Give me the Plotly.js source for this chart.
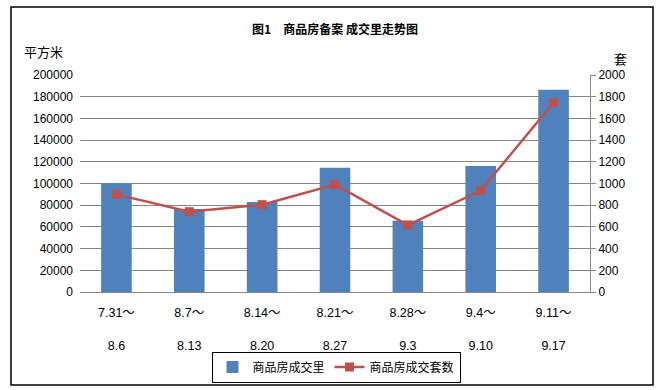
<!DOCTYPE html>
<html><head><meta charset="utf-8">
<script src="https://cdn.plot.ly/plotly-3.0.1.min.js"></script>
<style>html,body{margin:0;padding:0;background:#fff}#c{width:660px;height:390px}</style>
</head><body><div id="c"></div>
<script>
const categories = ["7.31～<br> <br>8.6","8.7～<br> <br>8.13","8.14～<br> <br>8.20","8.21～<br> <br>8.27","8.28～<br> <br>9.3","9.4～<br> <br>9.10","9.11～<br> <br>9.17"];
const areaValues = [100000, 76500, 83000, 114500, 65600, 116200, 186500];
const unitValues = [900, 740, 805, 990, 617, 935, 1745];
const seriesNames = ["商品房成交里", "商品房成交套数"];

const font = "Liberation Sans, Arial, Noto Sans CJK SC, sans-serif";
const traces = [
  {type:"bar", x:categories, y:areaValues, name:seriesNames[0], marker:{color:"#4F81BD"}, yaxis:"y"},
  {type:"scatter", mode:"lines+markers", x:categories, y:unitValues, name:seriesNames[1], yaxis:"y2",
   line:{color:"#C0504D", width:2.5}, marker:{symbol:"square", size:9, color:"#C0504D"}}
];
const layout = {
  width:660, height:390, paper_bgcolor:"#fff", plot_bgcolor:"#fff",
  margin:{l:80, r:70, t:75, b:98, autoexpand:false},
  bargap:0.58, showlegend:true,
  font:{family:font, size:12, color:"#000"},
  title:{text:"<b>图1　商品房备案 成交里走势图</b>", x:0.5, xref:"paper", y:1-30/390, yanchor:"middle",
         font:{family:"Noto Sans CJK SC, sans-serif", size:12, color:"#000"}},
  xaxis:{type:"category", automargin:false, showgrid:false, showline:true, linecolor:"#868686", linewidth:1, ticks:"",
         tickfont:{size:12.5, family:font}, ticklabelstandoff:9, fixedrange:true},
  yaxis:{range:[0,200000], automargin:false, dtick:20000, tickformat:"d", showgrid:true, gridcolor:"#868686", gridwidth:1, zeroline:false,
         showline:false, ticks:"", tickfont:{size:12}, ticklabelstandoff:6},
  yaxis2:{range:[0,2000], automargin:false, dtick:200, tickformat:"d", overlaying:"y", side:"right", showgrid:false, zeroline:false,
          showline:true, linecolor:"#868686", linewidth:1, ticks:"outside", ticklen:5, tickcolor:"#868686",
          tickfont:{size:12}},
  legend:{orientation:"h", x:(336-80)/510, xanchor:"center", y:-(367-292)/217, yanchor:"middle", xref:"paper", yref:"paper",
          bordercolor:"#000", borderwidth:1, bgcolor:"#fff", font:{family:"Noto Sans CJK SC, sans-serif", size:12},
          itemwidth:30, tracegroupgap:0},
  annotations:[
    {text:"平方米", xref:"paper", yref:"paper", x:(22-80)/510, y:1+(75-51)/217, xanchor:"left", yanchor:"middle", showarrow:false,
     font:{family:"Noto Sans CJK SC, sans-serif", size:13}},
    {text:"套", xref:"paper", yref:"paper", x:(620-80)/510, y:1+(75-58)/217, xanchor:"center", yanchor:"middle", showarrow:false,
     font:{family:"Noto Sans CJK SC, sans-serif", size:13}}
  ],
  shapes:[
    {type:"rect", xref:"paper", yref:"paper", x0:(11-80)/510, x1:(653-80)/510, y0:-(385-292)/217, y1:1+(75-7)/217,
     line:{color:"#000", width:1.5}, fillcolor:"rgba(0,0,0,0)"}
  ]
};
Plotly.newPlot("c", traces, layout, {displayModeBar:false, staticPlot:true});
</script></body></html>
